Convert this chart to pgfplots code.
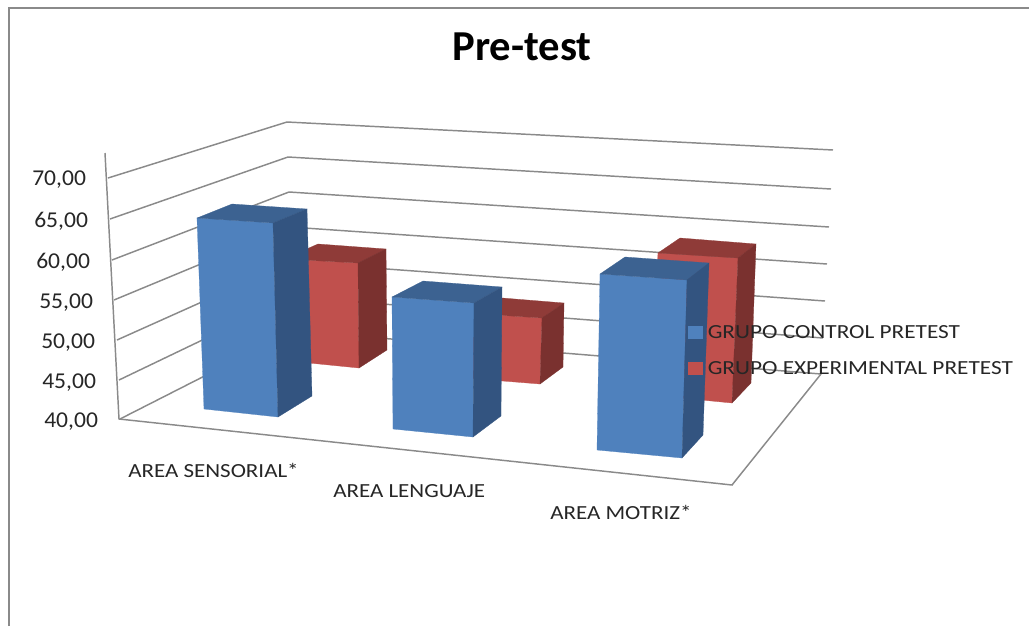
\documentclass[border=0pt]{standalone}
\usepackage{pgfplots}
\pgfplotsset{compat=1.18}
\usepackage{fontspec}
\setmainfont{Carlito}

\definecolor{bluefront}{HTML}{4F81BD}
\definecolor{blueside}{HTML}{335480}
\definecolor{bluetop}{HTML}{3C6291}
\definecolor{redfront}{HTML}{C0504D}
\definecolor{redside}{HTML}{7A312F}
\definecolor{redtop}{HTML}{8F3B38}
\definecolor{gridgray}{HTML}{8A8A8A}

\pgfplotsset{
    grid3d/.style={draw=gridgray, line width=1.1pt, forget plot},
    face/.style={fill=#1, draw=#1, line width=0.2pt, forget plot},
}
\newcommand{\ticklab}[2]{\node[anchor=base west, inner sep=0pt, font=\fontsize{17}{17}\selectfont, text=black!85] at (axis cs:#1) {\scalebox{1.04}[1]{#2}};}
\newcommand{\catlab}[2]{\node[anchor=base west, inner sep=0pt, font=\fontsize{15}{15}\selectfont, text=black!85] at (axis cs:#1) {\scalebox{1.15}[1]{#2}};}
\newcommand{\legswatch}[1]{\fill[#1] (0pt,-4.5pt) rectangle (10pt,4.5pt); \path (14.25pt,0pt);}

\begin{document}
\begin{tikzpicture}
\useasboundingbox (0,0) rectangle (771.75pt,469.5pt);
\begin{axis}[
    at={(0,0)}, anchor=south west,
    scale only axis,
    width=771.75pt, height=469.5pt,
    xmin=0, xmax=1029,
    ymin=0, ymax=626,
    y dir=reverse,
    hide axis,
    clip=false,
    legend style={at={(axis cs:688,325)}, anchor=north west, draw=none, fill=none,
        font=\fontsize{15}{15}\selectfont, row sep=15.75pt, inner sep=0pt,
        nodes={inner sep=0pt, text=black!85}},
    legend cell align=left,
]
% frame
\addplot[draw=gridgray, line width=1.5pt, forget plot] coordinates {(9,626)(9,8)(1029,8)};

% walls: front left, back left, back right
\addplot[grid3d] coordinates {(108,178)(287,122)(833,150)};
\addplot[grid3d] coordinates {(110,219)(288,157)(831,189)};
\addplot[grid3d] coordinates {(112,260)(289,192)(829,227)};
\addplot[grid3d] coordinates {(114,300)(290,227)(827,264)};
\addplot[grid3d] coordinates {(117,340)(291,262)(825,301)};
\addplot[grid3d] coordinates {(119,380)(292,297)(823,338)};
\addplot[grid3d] coordinates {(120,419)(293,331)(821,374)};
\addplot[grid3d] coordinates {(105,153)(119,419)(732,485)(821,374)};

% red bars, behind
\addplot[face=redfront] coordinates {(284,259)(358,263)(359,368)(289,361)} --cycle;
\addplot[face=redtop] coordinates {(284,259)(318,244)(386,249)(358,263)} --cycle;
\addplot[face=redside] coordinates {(358,263)(386,249)(387,350)(359,368)} --cycle;

\addplot[face=redfront] coordinates {(465,313)(542,318)(540,384)(465,378)} --cycle;
\addplot[face=redtop] coordinates {(465,313)(490,297)(564,303)(542,318)} --cycle;
\addplot[face=redside] coordinates {(542,318)(564,303)(563,367)(540,384)} --cycle;

\addplot[face=redfront] coordinates {(658,253)(738,258)(732,403)(650,395)} --cycle;
\addplot[face=redtop] coordinates {(658,253)(680,238)(756,244)(738,258)} --cycle;
\addplot[face=redside] coordinates {(738,258)(756,244)(751,383)(732,403)} --cycle;

% blue bars, in front
\addplot[face=bluefront] coordinates {(197,218)(273,223)(278,417)(204,409)} --cycle;
\addplot[face=bluetop] coordinates {(197,218)(232,204)(307,209)(273,223)} --cycle;
\addplot[face=blueside] coordinates {(273,223)(307,209)(312,396)(278,417)} --cycle;

\addplot[face=bluefront] coordinates {(392,297)(474,303)(473,437)(393,429)} --cycle;
\addplot[face=bluetop] coordinates {(392,297)(423,281)(502,287)(474,303)} --cycle;
\addplot[face=blueside] coordinates {(474,303)(502,287)(501,416)(473,437)} --cycle;

\addplot[face=bluefront] coordinates {(600,274)(687,280)(682,458)(597,450)} --cycle;
\addplot[face=bluetop] coordinates {(600,274)(625,257)(709,263)(687,280)} --cycle;
\addplot[face=blueside] coordinates {(687,280)(709,263)(703,435)(682,458)} --cycle;

% legend
\addlegendimage{legend image code/.code={\legswatch{bluefront}}}
\addlegendentry{\scalebox{1.164}[1]{GRUPO CONTROL PRETEST}}
\addlegendimage{legend image code/.code={\legswatch{redfront}}}
\addlegendentry{\scalebox{1.164}[1]{GRUPO EXPERIMENTAL PRETEST}}

% value axis labels
\ticklab{32,185}{70,00}
\ticklab{34,227}{65,00}
\ticklab{36,268}{60,00}
\ticklab{39,308}{55,00}
\ticklab{41,348}{50,00}
\ticklab{42,388}{45,00}
\ticklab{44,427}{40,00}

% category labels
\catlab{128,477}{AREA SENSORIAL*}
\catlab{333,497}{AREA LENGUAJE}
\catlab{550,519}{AREA MOTRIZ*}

\node[anchor=base, inner sep=0pt, font=\fontsize{32}{32}\selectfont\bfseries] at (axis cs:522,60.5) {Pre-test};
\end{axis}
\end{tikzpicture}
\end{document}
